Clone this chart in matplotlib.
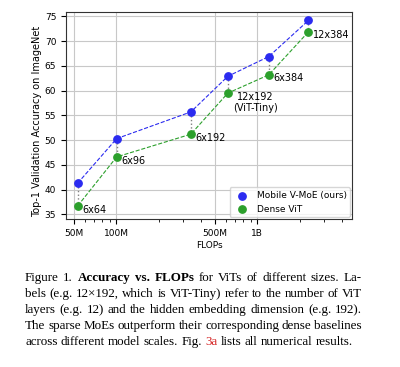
import matplotlib
matplotlib.use('Agg')
import matplotlib.pyplot as plt
from matplotlib.ticker import FixedLocator, LogLocator, NullFormatter

# data
flops = [53.5e6, 101e6, 339e6, 620e6, 1.21e9, 2.31e9]
moe_acc = [41.3, 50.3, 55.7, 62.9, 66.9, 74.2]
dense_acc = [36.7, 46.6, 51.2, 59.5, 63.2, 71.9]
sizes = ['6x64', '6x96', '6x192', '12x192\n(ViT-Tiny)', '6x384', '12x384']
xticks = [50e6, 100e6, 500e6, 1e9]
xtick_labels = ['50M', '100M', '500M', '1B']
yticks = [35, 40, 45, 50, 55, 60, 65, 70, 75]

# caption lines: (text, style) where style is '', 'bold' or 'red'
caption = [
    [('Figure 1.', ''), ('Accuracy vs. FLOPs', 'bold'), ('for ViTs of different sizes. La-', '')],
    [('bels (e.g. 12\u00d7192, which is ViT-Tiny) refer to the number of ViT', '')],
    [('layers (e.g. 12) and the hidden embedding dimension (e.g. 192).', '')],
    [('The sparse MoEs outperform their corresponding dense baselines', '')],
    [('across different model scales. Fig.', ''), ('3a', 'red'), ('lists all numerical results.', '')],
]

W, H = 400, 367
blue = '#2b2bf0'
green = '#2ca02c'
fs = 6.5

fig = plt.figure(figsize=(W / 100, H / 100), dpi=100)
ax = fig.add_axes([66 / W, 1 - 219 / H, (352 - 66) / W, (219 - 12) / H])

for x, a, b in zip(flops, moe_acc, dense_acc):
    ax.plot([x, x], [a, b], ':', color='gray', lw=1, zorder=2)
ax.plot(flops, moe_acc, '--', color=blue, lw=0.8, zorder=3)
ax.plot(flops, dense_acc, '--', color=green, lw=0.8, zorder=3)
ax.scatter(flops, moe_acc, s=28, color=blue, zorder=4, label='Mobile V-MoE (ours)')
ax.scatter(flops, dense_acc, s=28, color=green, zorder=4, label='Dense ViT')

for x, y, s in zip(flops, dense_acc, sizes):
    ax.annotate(s, (x, y), xytext=(3.5, 1), textcoords='offset points',
                ha='left', va='top', fontsize=7, multialignment='center')

ax.set_xscale('log')
ax.set_xlim(44.2e6, 4.7e9)
ax.set_ylim(34.05, 75.9)
ax.xaxis.set_major_locator(FixedLocator(xticks))
ax.set_xticklabels(xtick_labels)
ax.xaxis.set_minor_locator(LogLocator(subs=range(2, 10)))
ax.xaxis.set_minor_formatter(NullFormatter())
ax.set_yticks(yticks)
ax.tick_params(labelsize=fs)
ax.grid(True, which='major', color='#c8c8c8', lw=0.8)
ax.set_axisbelow(True)
for sp in ax.spines.values():
    sp.set_color('#333333')
ax.set_xlabel('FLOPs', fontsize=fs, labelpad=2)
ax.set_ylabel('Top-1 Validation Accuracy on ImageNet', fontsize=7)
ax.yaxis.set_label_coords(-0.083, 0.47)
ax.legend(loc='lower right', fontsize=fs, borderaxespad=0.2, handletextpad=0.6)

# caption, justified like the paper
cap_size = 9.4
left, right = 25, 362
baselines = [281 + 16 * i for i in range(len(caption))]
renderer = fig.canvas.get_renderer()


def put(px, py, s, style):
    kw = {}
    if style == 'bold':
        kw['weight'] = 'bold'
    if style == 'red':
        kw['color'] = '#d42020'
    return fig.text(px / W, 1 - py / H, s, va='baseline', ha='left',
                    family='Liberation Serif', fontsize=cap_size, **kw)


space = cap_size * 100 / 72 * 0.25
for i, line in enumerate(caption):
    words = []
    for text, style in line:
        for w in text.split():
            words.append((w, style))
    texts = [put(0, baselines[i], w, st) for w, st in words]
    widths = [t.get_window_extent(renderer).width for t in texts]
    if i < len(caption) - 1:
        gap = (right - left - sum(widths)) / (len(words) - 1)
    else:
        gap = space
    x = left
    for t, w in zip(texts, widths):
        t.set_x(x / W)
        x += w + gap

fig.savefig('out.png', dpi=100)
